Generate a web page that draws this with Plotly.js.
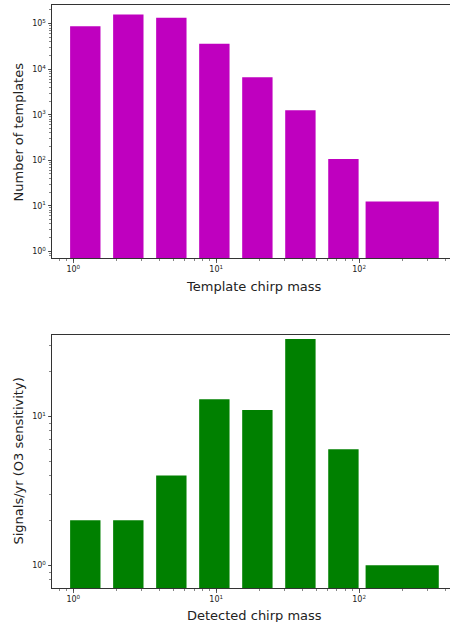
<!DOCTYPE html>
<html><head><meta charset="utf-8">
<script src="https://cdn.plot.ly/plotly-3.0.1.min.js"></script>
<style>html,body{margin:0;padding:0;background:#fff}#chart{width:450px;height:622px}</style>
</head><body><div id="chart"></div>
<script>
// Chirp-mass bins (bar centres and widths, linear units)
const binCenters = [1.25, 2.5, 5, 10, 20, 40, 80, 236];
const binWidths = [0.6, 1.2, 2.4, 4.8, 9.6, 19.2, 38.4, 250];
// Top panel: number of templates per bin
const templateCounts = [87700, 158000, 135600, 36300, 6640, 1260, 107, 12.4];
// Bottom panel: signals per year (O3 sensitivity)
const signalsPerYear = [2, 2, 4, 13, 11, 33, 6, 1];
// Tick labels
const xTickVals = [1, 10, 100];
const xTickText = ['10<sup>0</sup>', '10<sup>1</sup>', '10<sup>2</sup>'];
const yTopTickVals = [1, 10, 100, 1000, 10000, 100000];
const yTopTickText = ['10<sup>0</sup>', '10<sup>1</sup>', '10<sup>2</sup>', '10<sup>3</sup>', '10<sup>4</sup>', '10<sup>5</sup>'];
const yBotTickVals = [1, 10];
const yBotTickText = ['10<sup>0</sup>', '10<sup>1</sup>'];

const W = 450, H = 622;
const FONT = 'DejaVu Sans';
const axisCommon = {
  type: 'log', showline: true, linecolor: '#333', linewidth: 1,
  ticks: 'outside', ticklen: 3.5, tickwidth: 0.8, tickcolor: '#333',
  tickfont: {family: FONT, size: 8, color: '#222'},
  showgrid: false, zeroline: false, tickmode: 'array',
  minor: {ticks: 'outside', ticklen: 2, tickwidth: 0.6, tickcolor: '#333', dtick: 'D1', showgrid: false}
};

const traces = [
  {type: 'bar', x: binCenters, y: templateCounts, width: binWidths,
   marker: {color: '#bf00bf', line: {width: 0}}, xaxis: 'x', yaxis: 'y', hoverinfo: 'x+y'},
  {type: 'bar', x: binCenters, y: signalsPerYear, width: binWidths,
   marker: {color: '#008000', line: {width: 0}}, xaxis: 'x2', yaxis: 'y2', hoverinfo: 'x+y'}
];

const xDom = [52 / W, 1];
const yTopDom = [1 - 258 / H, 1 - 5 / H];
const yBotDom = [1 - 588 / H, 1 - 335 / H];

const layout = {
  width: W, height: H,
  margin: {l: 0, r: 0, t: 0, b: 0},
  paper_bgcolor: '#fff', plot_bgcolor: '#fff',
  showlegend: false,
  font: {family: FONT, color: '#222'},
  xaxis: Object.assign({}, axisCommon, {domain: xDom, anchor: 'y', range: [-0.149, 2.636], mirror: true,
    tickvals: xTickVals, ticktext: xTickText}),
  yaxis: Object.assign({}, axisCommon, {domain: yTopDom, anchor: 'x', range: [-0.147, 5.41],
    tickvals: yTopTickVals, ticktext: yTopTickText}),
  xaxis2: Object.assign({}, axisCommon, {domain: xDom, anchor: 'y2', range: [-0.149, 2.636], mirror: true,
    tickvals: xTickVals, ticktext: xTickText}),
  yaxis2: Object.assign({}, axisCommon, {domain: yBotDom, anchor: 'x2', range: [-0.153, 1.545],
    tickvals: yBotTickVals, ticktext: yBotTickText}),
  annotations: [
    {text: 'Template chirp mass', xref: 'paper', yref: 'paper', x: 254 / W, y: 1 - 286 / H,
     xanchor: 'center', yanchor: 'middle', showarrow: false, font: {family: FONT, size: 13, color: '#222'}},
    {text: 'Number of templates', xref: 'paper', yref: 'paper', x: 17.5 / W, y: 1 - 132 / H, textangle: -90,
     xanchor: 'center', yanchor: 'middle', showarrow: false, font: {family: FONT, size: 13, color: '#222'}},
    {text: 'Detected chirp mass', xref: 'paper', yref: 'paper', x: 254 / W, y: 1 - 615 / H,
     xanchor: 'center', yanchor: 'middle', showarrow: false, font: {family: FONT, size: 13, color: '#222'}},
    {text: 'Signals/yr (O3 sensitivity)', xref: 'paper', yref: 'paper', x: 17.5 / W, y: 1 - 461 / H, textangle: -90,
     xanchor: 'center', yanchor: 'middle', showarrow: false, font: {family: FONT, size: 13, color: '#222'}}
  ]
};

Plotly.newPlot('chart', traces, layout, {displayModeBar: false, staticPlot: true});
</script>
</body></html>
